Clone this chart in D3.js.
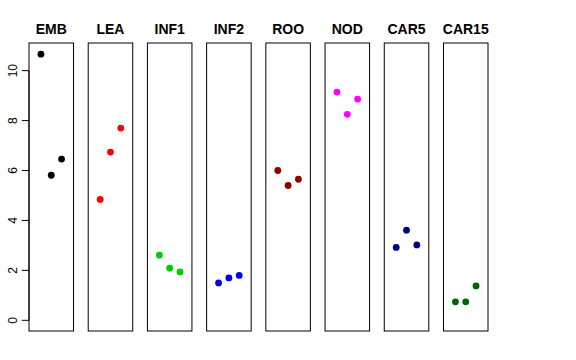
<!DOCTYPE html>
<html>
<head>
<meta charset="utf-8">
<script src="https://cdn.jsdelivr.net/npm/d3@7"></script>
<style>
  body { margin: 0; background: #fff; }
  svg { display: block; font-family: "Liberation Sans", Arial, Helvetica, sans-serif; }
</style>
</head>
<body>
<div id="viz"></div>
<script>
var width = 576,
    height = 360;

// panels and their values (three replicates each)
var groups = ["EMB", "LEA", "INF1", "INF2", "ROO", "NOD", "CAR5", "CAR15"];
var colors = ["#000000", "#FF0000", "#00CD00", "#0000FF", "#8B0000", "#FF00FF", "#00008B", "#006400"];
var rep1 = [10.66, 4.84, 2.61, 1.50, 6.00, 9.14, 2.92, 0.74];
var rep2 = [5.81, 6.74, 2.09, 1.70, 5.40, 8.25, 3.61, 0.74];
var rep3 = [6.46, 7.70, 1.94, 1.80, 5.65, 8.86, 3.02, 1.38];
var yTicks = [0, 2, 4, 6, 8, 10];

// plot region (note: "top" is taken by window.top, so use other names)
var plotTop = 43, plotBottom = 331, plotLeft = 29, plotRight = 488;

var svg = d3.select("div#viz")
    .append("svg")
    .attr("width", width)
    .attr("height", height);

// one band per panel
var x = d3.scaleBand()
    .domain(groups)
    .range([plotLeft, plotRight])
    .paddingInner(0.248);

// inside a panel points sit at 1,2,3 on a 0..4 range (R style 4% expansion)
var xIn = d3.scaleLinear()
    .domain([-0.16, 4.16])
    .range([0, x.bandwidth()]);

var yMax = 10.68;
var y = d3.scaleLinear()
    .domain([-0.04 * yMax, 1.04 * yMax])
    .range([plotBottom, plotTop]);

var data = groups.map(function(g, i) {
    return {
        name: g,
        color: colors[i],
        values: [rep1[i], rep2[i], rep3[i]]
    };
});

var panel = svg.selectAll("g.panel")
    .data(data)
    .enter().append("g")
    .attr("class", "panel")
    .attr("transform", function(d) { return "translate(" + x(d.name) + ",0)"; });

panel.append("rect")
    .attr("x", 0)
    .attr("y", plotTop)
    .attr("width", x.bandwidth())
    .attr("height", plotBottom - plotTop)
    .attr("fill", "none")
    .attr("stroke", "#000")
    .attr("stroke-width", 1);

panel.append("text")
    .attr("x", x.bandwidth() / 2)
    .attr("y", 34)
    .attr("text-anchor", "middle")
    .attr("font-size", 14)
    .attr("font-weight", "bold")
    .text(function(d) { return d.name; });

panel.selectAll("circle")
    .data(function(d) {
        return d.values.map(function(v, j) { return {x: j + 1, y: v, color: d.color}; });
    })
    .enter().append("circle")
    .attr("cx", function(d) { return xIn(d.x); })
    .attr("cy", function(d) { return y(d.y); })
    .attr("r", 3.4)
    .attr("fill", function(d) { return d.color; });

// y axis on the first panel only, labels rotated like R's default
var axis = svg.append("g")
    .attr("transform", "translate(" + plotLeft + ",0)");

axis.append("line")
    .attr("x1", 0).attr("x2", 0)
    .attr("y1", y(0)).attr("y2", y(10))
    .attr("stroke", "#000");

axis.selectAll("line.tick")
    .data(yTicks)
    .enter().append("line")
    .attr("class", "tick")
    .attr("x1", -7.2).attr("x2", 0)
    .attr("y1", function(d) { return y(d); })
    .attr("y2", function(d) { return y(d); })
    .attr("stroke", "#000");

axis.selectAll("text")
    .data(yTicks)
    .enter().append("text")
    .attr("transform", function(d) { return "translate(-12.5," + y(d) + ") rotate(-90)"; })
    .attr("text-anchor", "middle")
    .attr("font-size", 12)
    .text(function(d) { return d; });
</script>
</body>
</html>
